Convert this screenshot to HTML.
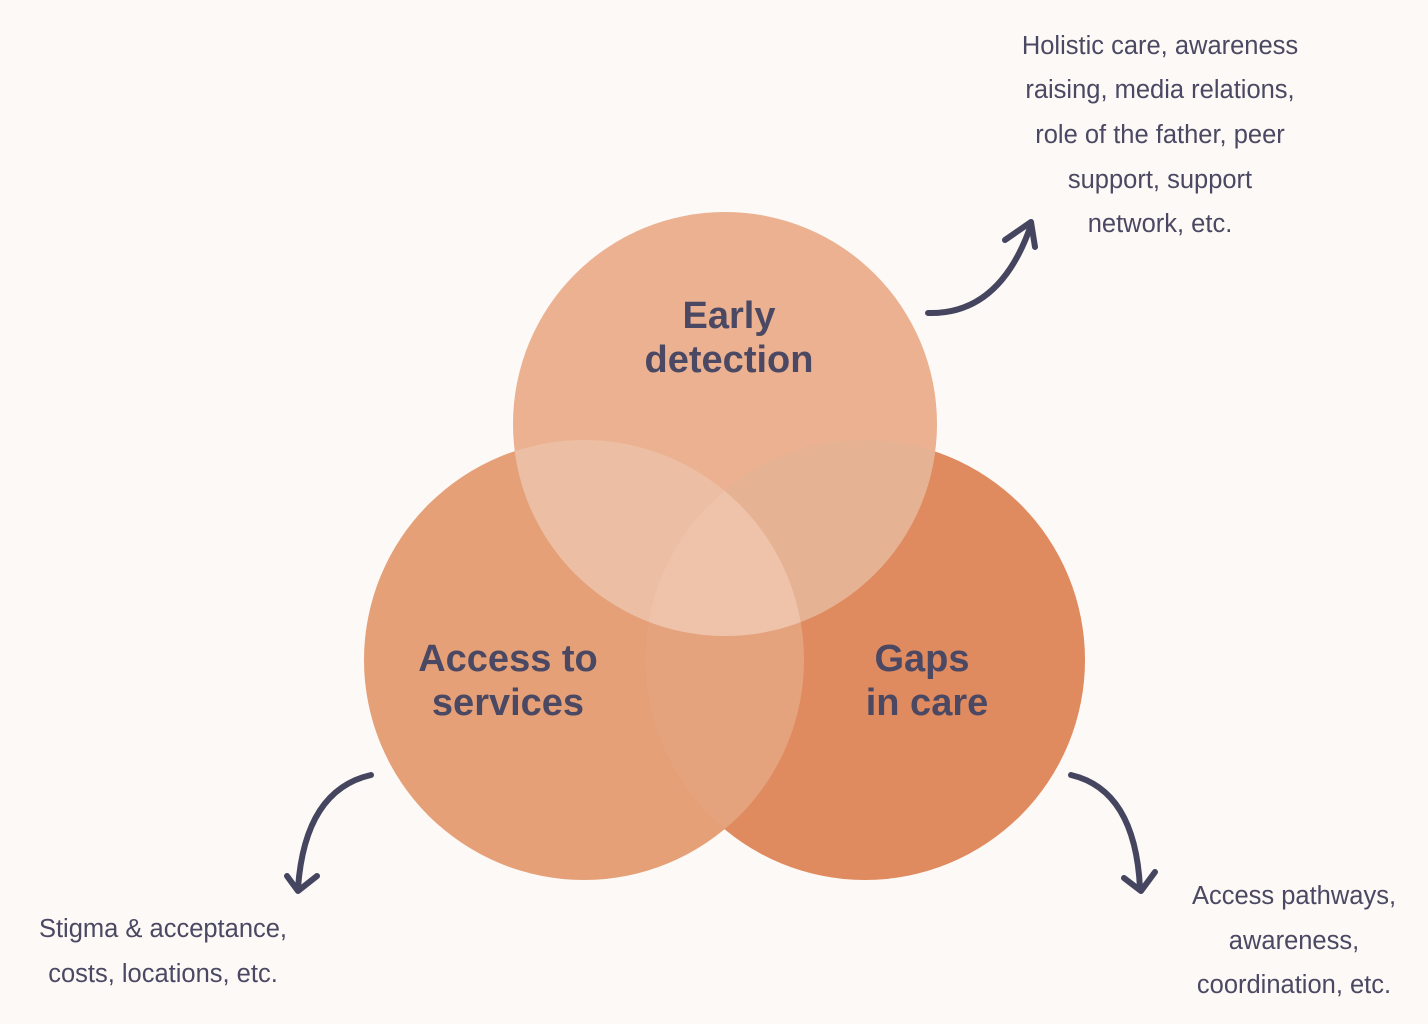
<!DOCTYPE html>
<html><head><meta charset="utf-8"><style>
html,body{margin:0;padding:0;background:#FDF9F6;}
svg{display:block}
</style></head><body>
<svg width="1428" height="1024" viewBox="0 0 1428 1024" xmlns="http://www.w3.org/2000/svg" font-family="Liberation Sans, sans-serif">
<defs>
<clipPath id="cL"><circle cx="584" cy="660" r="220"/></clipPath>
<clipPath id="cR"><circle cx="865" cy="660" r="220"/></clipPath>
</defs>
<rect width="1428" height="1024" fill="#FDF9F6"/>
<circle cx="584" cy="660" r="220" fill="#E5A078"/>
<circle cx="865" cy="660" r="220" fill="#E08A5F"/>
<circle cx="865" cy="660" r="220" fill="#E5A37D" clip-path="url(#cL)"/>
<circle cx="725" cy="424" r="212" fill="#EBB190"/>
<circle cx="725" cy="424" r="212" fill="#ECBEA4" clip-path="url(#cL)"/>
<g clip-path="url(#cR)"><circle cx="725" cy="424" r="212" fill="#E6B294"/></g>
<g clip-path="url(#cL)"><g clip-path="url(#cR)"><circle cx="725" cy="424" r="212" fill="#EEC3AA"/></g></g>
<g fill="#4A4862" font-weight="bold" font-size="38" text-anchor="middle">
<text x="729" y="328">Early</text>
<text x="729" y="372">detection</text>
<text x="508" y="671">Access to</text>
<text x="508" y="715">services</text>
<text x="922" y="671">Gaps</text>
<text x="927" y="715">in care</text>
</g>
<g fill="none" stroke="#454560" stroke-width="6" stroke-linecap="round" stroke-linejoin="round">
<path d="M928 313 Q1000 315 1031 225"/>
<path d="M1005 240 L1031 222 L1035 247"/>
<path d="M371 775 Q305 790 298 888"/>
<path d="M287 876 L298 891 L317 876"/>
<path d="M1071 775 Q1135 790 1140 888"/>
<path d="M1124 878 L1141 891 L1155 872"/>
</g>
<g fill="#4A4862" font-size="25.5" text-anchor="middle">
<text x="1160" y="54">Holistic care, awareness</text>
<text x="1160" y="98">raising, media relations,</text>
<text x="1160" y="143">role of the father, peer</text>
<text x="1160" y="188">support, support</text>
<text x="1160" y="232">network, etc.</text>
<text x="163" y="937">Stigma &amp; acceptance,</text>
<text x="163" y="982">costs, locations, etc.</text>
<text x="1294" y="904">Access pathways,</text>
<text x="1294" y="949">awareness,</text>
<text x="1294" y="993">coordination, etc.</text>
</g>
</svg>
</body></html>
